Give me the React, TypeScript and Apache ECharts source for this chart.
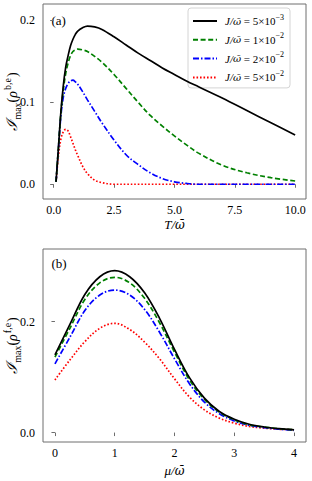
import React, { useEffect, useRef } from "react";
import * as echarts from "echarts";

// ---------- data ----------
const seriesNames = [
  "J/ω̄ = 5×10^-3",
  "J/ω̄ = 1×10^-2",
  "J/ω̄ = 2×10^-2",
  "J/ω̄ = 5×10^-2",
];
const legendMantissa = ["5", "1", "2", "5"];
const legendExponent = ["−3", "−2", "−2", "−2"];

// panel (a): T / omega-bar
const tValues = [0.1, 0.2, 0.3, 0.4, 0.5, 0.6, 0.7, 0.8, 0.9, 1.0, 1.2, 1.4, 1.7, 2.0, 2.5, 3.0, 3.5, 4.0, 4.5, 5.0, 5.5, 6.0, 7.0, 8.0, 9.0, 10.0];
const aBlack = [0.003, 0.045, 0.088, 0.12, 0.143, 0.157, 0.169, 0.177, 0.183, 0.187, 0.191, 0.193, 0.192, 0.189, 0.18, 0.17, 0.16, 0.151, 0.142, 0.134, 0.126, 0.119, 0.105, 0.09, 0.075, 0.06];
const aGreen = [0.003, 0.045, 0.087, 0.115, 0.135, 0.148, 0.157, 0.162, 0.164, 0.165, 0.164, 0.162, 0.156, 0.149, 0.134, 0.117, 0.1, 0.084, 0.071, 0.059, 0.048, 0.038, 0.023, 0.014, 0.008, 0.004];
const aBlue = [0.003, 0.044, 0.083, 0.106, 0.117, 0.123, 0.126, 0.127, 0.125, 0.122, 0.113, 0.103, 0.089, 0.075, 0.054, 0.036, 0.024, 0.014, 0.007, 0.003, 0.001, 0.0, 0.0, 0.0, 0.0, 0.0];
const aRed = [0.003, 0.035, 0.055, 0.064, 0.067, 0.065, 0.058, 0.05, 0.042, 0.035, 0.022, 0.013, 0.005, 0.002, 0.0, 0.0, 0.0, 0.0, 0.0, 0.0, 0.0, 0.0, 0.0, 0.0, 0.0, 0.0];

// panel (b): mu / omega-bar
const muValues = [0, 0.25, 0.5, 0.75, 1.0, 1.25, 1.5, 1.75, 2.0, 2.25, 2.5, 2.75, 3.0, 3.25, 3.5, 3.75, 4.0];
const bBlack = [0.14, 0.195, 0.249, 0.281, 0.292, 0.281, 0.252, 0.206, 0.15, 0.099, 0.062, 0.038, 0.024, 0.015, 0.01, 0.007, 0.005];
const bGreen = [0.136, 0.188, 0.24, 0.27, 0.28, 0.27, 0.242, 0.198, 0.145, 0.095, 0.06, 0.037, 0.023, 0.014, 0.01, 0.007, 0.005];
const bBlue = [0.124, 0.172, 0.22, 0.248, 0.257, 0.248, 0.222, 0.181, 0.133, 0.088, 0.055, 0.034, 0.021, 0.013, 0.009, 0.006, 0.004];
const bRed = [0.095, 0.131, 0.164, 0.188, 0.197, 0.186, 0.163, 0.133, 0.097, 0.064, 0.041, 0.026, 0.017, 0.011, 0.008, 0.006, 0.005];

const xTicksA = [0, 2.5, 5, 7.5, 10];
const yTicksA = [0, 0.1, 0.2];
const xTicksB = [0, 1, 2, 3, 4];
const yTicksB = [0, 0.2];

// ---------- styles ----------
const colors = ["#000000", "#008000", "#0000ff", "#ff0000"];
const dashes: any[] = ["solid", [5, 2.6], [6, 2, 1.5, 2], [1.6, 1.9]];
const widths = [1.7, 1.7, 1.7, 1.7];
const SERIF = "Liberation Serif";
const DVS = "DejaVu Serif";
const SPINE = "#6e6e6e";

export default function App() {
  const ref = useRef<HTMLDivElement>(null);
  useEffect(() => {
    if (!ref.current) return;
    const chart = echarts.init(ref.current, undefined, { renderer: "svg" });

    const zip = (xs: number[], ys: number[]) => xs.map((x, i) => [x, ys[i]]);
    const aData = [aBlack, aGreen, aBlue, aRed];
    const bData = [bBlack, bGreen, bBlue, bRed];

    const mkSeries = (idx: number, data: number[][], grid: number) => ({
      type: "line",
      name: seriesNames[idx],
      xAxisIndex: grid,
      yAxisIndex: grid,
      data,
      smooth: 0.35,
      showSymbol: false,
      symbol: "none",
      z: 10 - idx,
      lineStyle: { color: colors[idx], width: widths[idx], type: dashes[idx] },
      itemStyle: { color: colors[idx] },
    });

    const series: any[] = [];
    for (let i = 0; i < 4; i++) series.push(mkSeries(i, zip(tValues, aData[i]), 0));
    for (let i = 0; i < 4; i++) series.push(mkSeries(i, zip(muValues, bData[i]), 1));

    const axisLabelBase = { color: "#000", fontFamily: SERIF, fontSize: 12 };
    const tickBase = { lineStyle: { color: SPINE, width: 1 }, length: 3.5, inside: false };

    const yNameRich = {
      I: { fontFamily: DVS, fontStyle: "italic", fontSize: 15, lineHeight: 20, verticalAlign: "middle", color: "#000" },
      s: { fontFamily: SERIF, fontSize: 10, lineHeight: 11, verticalAlign: "bottom", color: "#000" },
      a: { fontFamily: SERIF, fontSize: 14, lineHeight: 20, verticalAlign: "middle", color: "#000" },
      r: { fontFamily: SERIF, fontStyle: "italic", fontSize: 14, lineHeight: 20, verticalAlign: "middle", color: "#000" },
      p: { fontFamily: SERIF, fontSize: 10, lineHeight: 10, verticalAlign: "top", color: "#000", padding: [0, 1, 0, 1] },
    };
    const xNameRich = {
      i: { fontFamily: SERIF, fontStyle: "italic", fontSize: 13, color: "#000" },
      w: { fontFamily: DVS, fontStyle: "italic", fontSize: 12, color: "#000" },
    };

    const gridBase = { left: 43, right: 6, show: true, borderColor: SPINE, borderWidth: 1, backgroundColor: "transparent", containLabel: false, outerBoundsMode: "none" };

    const option: any = {
      animation: false,
      backgroundColor: "#ffffff",
      grid: [
        { ...gridBase, top: 4, height: 195 },
        { ...gridBase, top: 249, height: 193 },
      ],
      xAxis: [
        {
          type: "value", gridIndex: 0, min: -0.44, max: 10.45,
          axisLine: { show: false }, splitLine: { show: false },
          axisTick: { ...tickBase, customValues: xTicksA },
          axisLabel: { ...axisLabelBase, margin: 5, customValues: xTicksA, formatter: (v: number) => v.toFixed(1) },
          name: "{i|T/}{w|ω̄}", nameLocation: "middle", nameGap: 19, nameMoveOverlap: false,
          nameTextStyle: { rich: xNameRich },
        },
        {
          type: "value", gridIndex: 1, min: -0.2, max: 4.2,
          axisLine: { show: false }, splitLine: { show: false },
          axisTick: { ...tickBase, customValues: xTicksB },
          axisLabel: { ...axisLabelBase, margin: 5, customValues: xTicksB, formatter: (v: number) => v.toFixed(0) },
          name: "{i|μ/}{w|ω̄}", nameLocation: "middle", nameGap: 22, nameMoveOverlap: false,
          nameTextStyle: { rich: xNameRich },
        },
      ],
      yAxis: [
        {
          type: "value", gridIndex: 0, min: -0.018, max: 0.22,
          axisLine: { show: false }, splitLine: { show: false },
          axisTick: { ...tickBase, customValues: yTicksA },
          axisLabel: { ...axisLabelBase, margin: 8, customValues: yTicksA, formatter: (v: number) => v.toFixed(1) },
          name: "{I|ℐ}{s|max}{a|(}{r|ρ}{p|b,e}{a|)}", nameLocation: "middle", nameGap: 21, nameRotate: 90, nameMoveOverlap: false,
          nameTextStyle: { rich: yNameRich },
        },
        {
          type: "value", gridIndex: 1, min: -0.017, max: 0.331,
          axisLine: { show: false }, splitLine: { show: false },
          axisTick: { ...tickBase, customValues: yTicksB },
          axisLabel: { ...axisLabelBase, margin: 8, customValues: yTicksB, formatter: (v: number) => v.toFixed(1) },
          name: "{I|ℐ}{s|max}{a|(}{r|ρ}{p|f,e}{a|)}", nameLocation: "middle", nameGap: 21, nameRotate: 90, nameMoveOverlap: false,
          nameTextStyle: { rich: yNameRich },
        },
      ],
      legend: {
        data: seriesNames,
        orient: "vertical",
        left: 188,
        top: 8,
        itemWidth: 24,
        itemHeight: 12,
        itemGap: 5.3,
        padding: [5, 6, 5, 4],
        backgroundColor: "rgba(255,255,255,0.85)",
        borderColor: "#d4d4d4",
        borderWidth: 1,
        borderRadius: 3,
        selectedMode: false,
        itemStyle: { opacity: 0, borderWidth: 0 },
        formatter: (name: string) => {
          const i = seriesNames.indexOf(name);
          return `{i|J/}{w|ω̄}{n| = ${legendMantissa[i]}×10}{s|${legendExponent[i]}}`;
        },
        textStyle: {
          padding: [0, 0, 0, 3],
          rich: {
            i: { fontFamily: SERIF, fontStyle: "italic", fontSize: 11, lineHeight: 16, verticalAlign: "middle", color: "#000" },
            w: { fontFamily: DVS, fontStyle: "italic", fontSize: 10, lineHeight: 16, verticalAlign: "middle", color: "#000" },
            n: { fontFamily: SERIF, fontSize: 11, lineHeight: 16, verticalAlign: "middle", color: "#000" },
            s: { fontFamily: SERIF, fontSize: 8, lineHeight: 8, verticalAlign: "top", color: "#000" },
          },
        },
      },
      graphic: [
        { type: "text", x: 51.5, y: 20.7, style: { text: "(a)", font: `13px ${SERIF}`, fill: "#000", verticalAlign: "middle" } },
        { type: "text", x: 51.5, y: 263.5, style: { text: "(b)", font: `13px ${SERIF}`, fill: "#000", verticalAlign: "middle" } },
      ],
      series,
    };

    chart.setOption(option);
    return () => chart.dispose();
  }, []);

  return <div ref={ref} style={{ position: "fixed", left: 0, top: 0, width: 312, height: 481, background: "#fff" }} />;
}
